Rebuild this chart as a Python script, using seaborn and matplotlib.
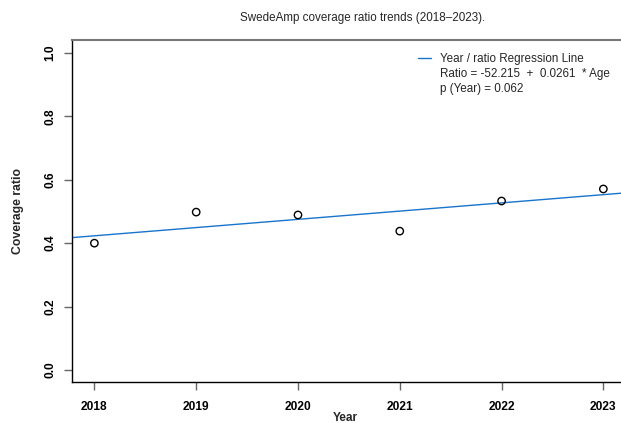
import matplotlib
matplotlib.use("Agg")
import matplotlib.pyplot as plt
from matplotlib.lines import Line2D
import pandas as pd
import seaborn as sns

# values
years = [2018, 2019, 2020, 2021, 2022, 2023]
ratios = [0.400, 0.498, 0.489, 0.438, 0.533, 0.571]
legend_lines = ["Year / ratio Regression Line",
                "Ratio = -52.215  +  0.0261  * Age",
                "p (Year) = 0.062"]

df = pd.DataFrame({"Year": years, "Coverage ratio": ratios})

sns.set_style("white")
plt.rcParams['font.family'] = ['Liberation Sans', 'DejaVu Sans']

fig = plt.figure(figsize=(6.21, 4.23), dpi=100)
# axes deliberately runs past the right edge, like the reference
ax = fig.add_axes([72 / 621, 41 / 423, (640 - 72) / 621, 342 / 423])
ax.set_xlim(2017.78, 2023.36)
ax.set_ylim(-0.038, 1.041)

# regression line over the full x range
sns.regplot(data=df, x="Year", y="Coverage ratio", ax=ax, ci=None, truncate=False,
            scatter=False, line_kws={"color": "#1874CD", "linewidth": 1})
sns.scatterplot(data=df, x="Year", y="Coverage ratio", ax=ax, s=28,
                facecolor="none", edgecolor="black", linewidth=1, zorder=3)

ax.set_xticks(years)
ax.set_xticklabels([str(y) for y in years], fontweight="bold", fontsize=8.6)
ax.set_yticks([0.0, 0.2, 0.4, 0.6, 0.8, 1.0])
ax.set_yticklabels(["0.0", "0.2", "0.4", "0.6", "0.8", "1.0"], fontweight="bold",
                   fontsize=8.6, rotation=90, va="center")
ax.tick_params(axis="both", which="major", direction="out", length=5.5, width=1,
               colors="#666666", labelcolor="black", bottom=True, left=True)
ax.tick_params(axis="x", pad=8)
ax.tick_params(axis="y", pad=6)

for side in ["left", "bottom"]:
    ax.spines[side].set_color("black")
    ax.spines[side].set_linewidth(1)
ax.spines["top"].set_color("#777777")
ax.spines["top"].set_linewidth(1.5)
ax.spines["right"].set_visible(False)

ax.set_xlabel("")
ax.set_ylabel("")
fig.text(345 / 621, 1 - 418 / 423, "Year", ha="center", va="center",
         fontweight="bold", fontsize=8.6)
fig.text(18 / 621, 1 - 211 / 423, "Coverage ratio", ha="center", va="center",
         rotation=90, fontweight="bold", fontsize=8.8)

fig.text(363 / 621, 1 - 18 / 423, "SwedeAmp coverage ratio trends (2018\u20132023).",
         ha="center", va="center", fontsize=8.4)

handles = [Line2D([], [], color="#1874CD", linewidth=1),
           Line2D([], [], color="none"),
           Line2D([], [], color="none")]
ax.legend(handles, legend_lines, loc="upper left", bbox_to_anchor=(346 / 568, 0.963),
          frameon=False, fontsize=8.4, handlelength=1.1, handletextpad=0.8,
          labelspacing=0.28, borderaxespad=0, borderpad=0)

fig.savefig("out.png", dpi=100)
